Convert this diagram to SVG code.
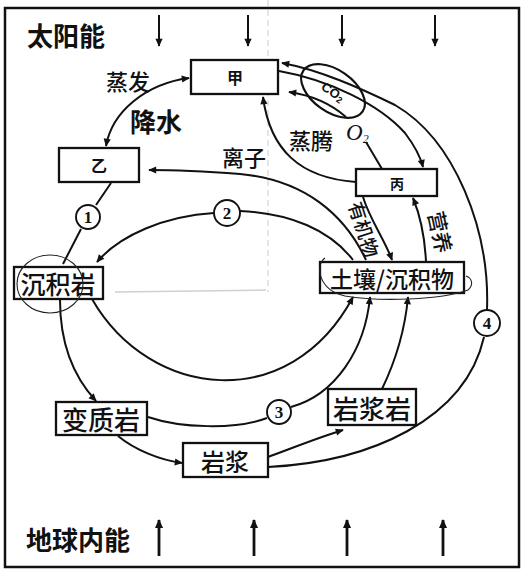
<svg xmlns="http://www.w3.org/2000/svg" width="523" height="574" viewBox="0 0 523 574">
<style>
.box{fill:#fff;stroke:#111;stroke-width:2.3}
.ln{fill:none;stroke:#111;stroke-width:2}
.thin{fill:none;stroke:#222;stroke-width:1.1}
.t{font-family:"Noto Sans CJK SC","Noto Sans CJK JP",sans-serif;fill:#111;text-anchor:middle;dominant-baseline:central}
.b{font-weight:bold}
.m{font-weight:500}
.num{font-family:"Liberation Serif",serif;font-size:17px;font-weight:bold;fill:#111;text-anchor:middle;dominant-baseline:central}
.nc{fill:#fff;stroke:#111;stroke-width:1.9}
</style>
<defs>
<marker id="ah" viewBox="0 0 10 10" refX="9" refY="5" markerWidth="9" markerHeight="8" markerUnits="userSpaceOnUse" orient="auto-start-reverse">
<path d="M0,0.5 L10,5 L0,9.5 z" fill="#111"/>
</marker>
<marker id="ah2" viewBox="0 0 10 10" refX="9" refY="5" markerWidth="10" markerHeight="9" markerUnits="userSpaceOnUse" orient="auto">
<path d="M0,0.5 L10,5 L0,9.5 z" fill="#111"/>
</marker>
</defs>
<rect x="0" y="0" width="523" height="574" fill="#fff"/>
<g id="artifacts">
<line x1="268" y1="0" x2="268" y2="292" stroke="#d4d4d4" stroke-width="1.2" stroke-dasharray="6 4"/>
<line x1="115" y1="292" x2="266" y2="290" stroke="#d0d0d0" stroke-width="1.5"/>
</g>
<rect id="frame" x="5" y="8" width="514" height="559" fill="none" stroke="#111" stroke-width="2.5"/>
<g id="solar">
<text class="t b" x="66" y="34" font-size="26">太阳能</text>
<g class="ln" marker-end="url(#ah)">
<line x1="159" y1="15" x2="159" y2="46"/>
<line x1="248" y1="15" x2="248" y2="46"/>
<line x1="342" y1="15" x2="342" y2="46"/>
<line x1="435" y1="15" x2="435" y2="46"/>
</g>
</g>
<g id="internal">
<text class="t b" x="78" y="538" font-size="26">地球内能</text>
<g fill="none" stroke="#111" stroke-width="2.8" marker-end="url(#ah2)">
<line x1="159" y1="556" x2="159" y2="520"/>
<line x1="254" y1="556" x2="254" y2="520"/>
<line x1="347" y1="556" x2="347" y2="520"/>
<line x1="443" y1="556" x2="443" y2="520"/>
</g>
</g>
<g id="connectors">
<path class="ln" d="M189 78 C145 84,112 112,106 146" marker-start="url(#ah)" marker-end="url(#ah)"/>
<path class="ln" d="M366 260 C345 215,305 180,240 174 C200 171,175 170,149 170" marker-end="url(#ah)"/>
<path class="ln" d="M353 260 C330 230,290 213,240 211"/>
<path class="ln" d="M214 213 C165 216,120 235,97 262" marker-end="url(#ah)"/>
<path class="ln" d="M111 183 L96 205"/>
<path class="ln" d="M81 229 L63 264"/>
<path class="ln" d="M60 300 C60 340,72 375,96 401" marker-end="url(#ah)"/>
<path class="ln" d="M92 299 C150 400,290 415,353 297" marker-end="url(#ah)"/>
<path class="ln" d="M118 436 C135 450,160 460,182 463" marker-end="url(#ah)"/>
<path class="ln" d="M148 417 C180 428,235 430,267 418"/>
<path class="ln" d="M291 407 C335 395,365 350,370 297" marker-end="url(#ah)"/>
<path class="ln" d="M268 457 C295 447,320 437,343 430" marker-end="url(#ah)"/>
<path class="ln" d="M382 389 C396 360,405 330,408 297" marker-end="url(#ah)"/>
<path class="ln" d="M268 467 C370 462,465 420,484 337"/>
<path class="ln" d="M487 310 C490 230,455 140,395 105 C360 88,320 70,282 63" marker-end="url(#ah)"/>
<path class="ln" d="M279 71 C330 80,380 105,405 133 C414 145,420 155,423 167" marker-end="url(#ah)"/>
<path class="ln" d="M382 169 L366 142"/>
<path class="ln" d="M346 117 C330 103,310 95,289 92" marker-end="url(#ah)"/>
<path class="ln" d="M356 182 C300 178,270 150,263 97" marker-end="url(#ah)"/>
<path class="ln" d="M363 197 C370 220,385 240,392 260" marker-end="url(#ah)"/>
<path class="ln" d="M426 262 C425 240,420 215,413 198" marker-end="url(#ah)"/>
</g>
<g id="co2">
<ellipse cx="333" cy="91" rx="36" ry="21" transform="rotate(35 333 91)" fill="none" stroke="#111" stroke-width="2.2"/>
<text x="333" y="92" transform="rotate(35 333 92)" font-family="Liberation Sans,sans-serif" font-size="13" font-weight="bold" fill="#111" text-anchor="middle" dominant-baseline="central">CO<tspan font-size="9" dy="3">2</tspan></text>
</g>
<g id="o2">
<text x="346" y="140" font-family="Liberation Serif,serif" font-style="italic" font-size="23" fill="#111">O<tspan font-size="12" dy="3">2</tspan></text>
</g>
<g id="labels">
<text class="t m" x="128" y="80" font-size="22">蒸发</text>
<text class="t b" x="156" y="120" font-size="26">降水</text>
<text class="t m" x="244" y="156" font-size="22">离子</text>
<text class="t m" x="311" y="139" font-size="22">蒸腾</text>
<text class="t m" x="365" y="229" font-size="19" transform="rotate(72 365 229)">有机物</text>
<text class="t m" x="441" y="232" font-size="21" transform="rotate(78 441 232)">营养</text>
</g>
<g id="n-jia"><rect class="box" x="191" y="60" width="87" height="34"/><text class="t b" x="235" y="77" font-size="16">甲</text></g>
<g id="n-yi"><rect class="box" x="59" y="148" width="80" height="34"/><text class="t b" x="99" y="165" font-size="16">乙</text></g>
<g id="n-bing"><rect class="box" x="356" y="169" width="81" height="27"/><text class="t b" x="397" y="183" font-size="14">丙</text></g>
<g id="n-chenjiyan"><rect class="box" x="14" y="267" width="89" height="32"/><text class="t m" x="58" y="283" font-size="25">沉积岩</text></g>
<g id="n-turang"><rect class="box" x="320" y="262" width="144" height="31"/><text class="t m" x="392" y="278" font-size="23">土壤/沉积物</text></g>
<g id="n-bianzhiyan"><rect class="box" x="56" y="402" width="91" height="33"/><text class="t m" x="101" y="418" font-size="26">变质岩</text></g>
<g id="n-yanjiang"><rect class="box" x="183" y="443" width="85" height="34"/><text class="t m" x="225" y="460" font-size="24">岩浆</text></g>
<g id="n-yanjiangyan"><rect class="box" x="328" y="389" width="88" height="36"/><text class="t m" x="372" y="407" font-size="26">岩浆岩</text></g>
<g id="marks">
<circle class="nc" cx="88" cy="217" r="12"/><text class="num" x="88" y="217">1</text>
<circle class="nc" cx="227" cy="213" r="13"/><text class="num" x="227" y="213">2</text>
<circle class="nc" cx="279" cy="412" r="12"/><text class="num" x="279" y="412">3</text>
<circle class="nc" cx="487" cy="323" r="13"/><text class="num" x="487" y="323">4</text>
</g>
<g id="annotations">
<ellipse class="thin" cx="50" cy="284" rx="33" ry="29"/>
<path class="thin" d="M325 258 C315 265,318 290,345 296 C380 302,440 300,468 290 C474 285,472 278,466 276"/>
</g>
</svg>
